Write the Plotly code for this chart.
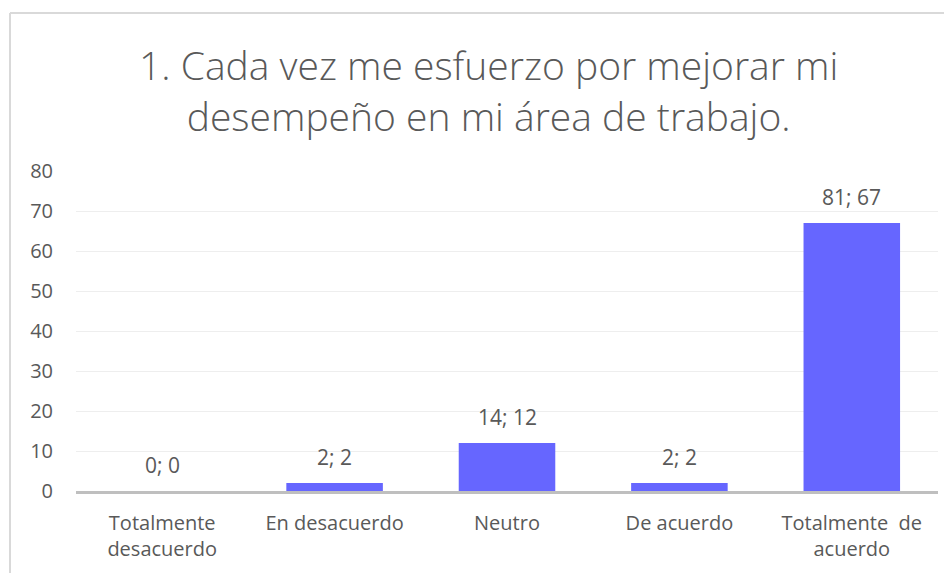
import plotly.graph_objects as go

categories = ["Totalmente<br>desacuerdo", "En desacuerdo", "Neutro", "De acuerdo", "Totalmente  de<br>acuerdo"]
counts = [0, 2, 14, 2, 81]
percents = [0, 2, 12, 2, 67]
y_ticks = [0, 10, 20, 30, 40, 50, 60, 70, 80]
title_text = "1. Cada vez me esfuerzo por mejorar mi<br>desempeño en mi área de trabajo."

# page body has an 8px margin, so the figure is laid out in shifted coords
OFF = 8
W, H = 952 - OFF, 573 - OFF
ML, MR, MT, MB = 76 - OFF, 14, 171 - OFF, 82
PW, PH = W - ML - MR, H - MT - MB

TXT = "#595959"
FONT = "Open Sans"

fig = go.Figure()
fig.add_trace(go.Bar(
    x=categories, y=percents,
    marker=dict(color="#6666FF", line=dict(width=0)),
    width=0.56,
    hoverinfo="skip",
))

for c, n, p in zip(categories, counts, percents):
    fig.add_annotation(
        x=c, y=p, text=f"{n}; {p}", showarrow=False,
        yanchor="bottom", yshift=10,
        font=dict(family=FONT, size=21, color=TXT),
    )

def px_x(px):
    return (px - OFF - ML) / PW

def px_y(py):
    return 1 - (py - OFF - MT) / PH

# title
fig.add_annotation(
    xref="paper", yref="paper", x=px_x(488), y=px_y(90),
    text=title_text, showarrow=False, xanchor="center", yanchor="middle",
    align="center",
    font=dict(family=FONT, size=39, color=TXT, weight=300),
)

# chart area border (left and top edges)
fig.add_shape(type="line", xref="paper", yref="paper",
              x0=px_x(10), x1=px_x(970), y0=px_y(13), y1=px_y(13),
              line=dict(color="#D9D9D9", width=2))
fig.add_shape(type="line", xref="paper", yref="paper",
              x0=px_x(10), x1=px_x(10), y0=px_y(13), y1=px_y(590),
              line=dict(color="#D9D9D9", width=2))

fig.update_layout(
    width=W, height=H,
    margin=dict(l=ML, r=MR, t=MT, b=MB, autoexpand=False),
    paper_bgcolor="white", plot_bgcolor="white",
    showlegend=False,
    xaxis=dict(
        showline=True, linecolor="#BFBFBF", linewidth=2.5,
        ticks="", showgrid=False, automargin=False,
        tickfont=dict(family=FONT, size=20, color=TXT),
        ticklabelstandoff=12,
    ),
    yaxis=dict(
        range=[0, 80], tickvals=y_ticks, automargin=False,
        showgrid=True, gridcolor="#EEEEEE", gridwidth=1,
        zeroline=False, showline=False, ticks="",
        tickfont=dict(family=FONT, size=20, color=TXT),
        ticklabelstandoff=22,
    ),
)

fig.write_html("out.html")
